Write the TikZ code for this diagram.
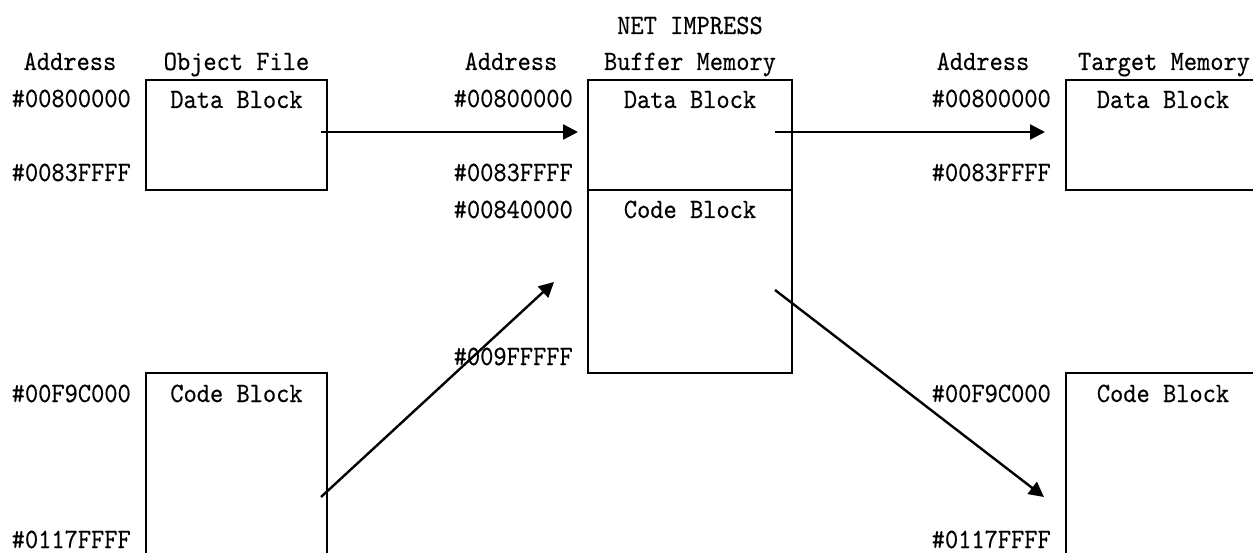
\documentclass[tikz,border=0pt]{standalone}
\usepackage{fontspec}
\newfontfamily\mfont[FakeStretch=0.9,FakeBold=0.3]{lmmono10-regular.otf}
\usetikzlibrary{arrows.meta}
\begin{document}
\begin{tikzpicture}[x=1pt,y=-1pt,
  txt/.style={font=\mfont\fontsize{28}{32}\selectfont, inner sep=0pt, anchor=base},
  addr/.style={txt, anchor=base east},
  blk/.style={draw=black, line width=2.4pt, inner sep=0pt, rectangle},
  arr/.style={line width=2.4pt, -{Triangle[length=15pt,width=15pt]}}]
\useasboundingbox (0,0) rectangle (1253,553);
\clip (0,0) rectangle (1253,553);
% boxes
\node[blk, minimum width=181pt, minimum height=110pt] (objdata) at (236.5,135) {};
\node[blk, minimum width=181pt, minimum height=200pt] (objcode) at (236.5,473) {};
\node[blk, minimum width=204pt, minimum height=110pt] (bufdata) at (690,135) {};
\node[blk, minimum width=204pt, minimum height=183pt] (bufcode) at (690,281.5) {};
\node[blk, minimum width=234pt, minimum height=110pt] (tgtdata) at (1183,135) {};
\node[blk, minimum width=234pt, minimum height=200pt] (tgtcode) at (1183,473) {};
% headers
\node[txt] (h1) at (70,70) {Address};
\node[txt] (h2) at (236.5,70) {Object File};
\node[txt] (h3) at (511,70) {Address};
\node[txt] (h4a) at (690,34) {NET IMPRESS};
\node[txt] (h4) at (690,70) {Buffer Memory};
\node[txt] (h5) at (983,70) {Address};
\node[txt] (h6) at (1164,70) {Target Memory};
% block labels
\node[txt] (l1) at (236.5,108) {Data Block};
\node[txt] (l2) at (236.5,402) {Code Block};
\node[txt] (l3) at (690,108) {Data Block};
\node[txt] (l4) at (690,218) {Code Block};
\node[txt] (l5) at (1163,108) {Data Block};
\node[txt] (l6) at (1163,402) {Code Block};
% addresses
\node[addr] (a1) at (131,107) {\#00800000};
\node[addr] (a2) at (131,181) {\#0083FFFF};
\node[addr] (a3) at (131,402) {\#00F9C000};
\node[addr] (a4) at (131,548) {\#0117FFFF};
\node[addr] (b1) at (573,107) {\#00800000};
\node[addr] (b2) at (573,181) {\#0083FFFF};
\node[addr] (b3) at (573,218) {\#00840000};
\node[addr] (b4) at (573,365) {\#009FFFFF};
\node[addr] (c1) at (1051,107) {\#00800000};
\node[addr] (c2) at (1051,181) {\#0083FFFF};
\node[addr] (c3) at (1051,402) {\#00F9C000};
\node[addr] (c4) at (1051,548) {\#0117FFFF};
% arrow endpoints
\coordinate (s1) at (321,132);
\coordinate (e1) at (578,132);
\coordinate (s2) at (775,132);
\coordinate (e2) at (1045,132);
\coordinate (s3) at (321,497);
\coordinate (e3) at (554,282);
\coordinate (s4) at (775,290);
\coordinate (e4) at (1044,497);
\draw[arr] (s1) -- (e1);
\draw[arr] (s2) -- (e2);
\draw[arr] (s3) -- (e3);
\draw[arr] (s4) -- (e4);
\end{tikzpicture}
\end{document}
